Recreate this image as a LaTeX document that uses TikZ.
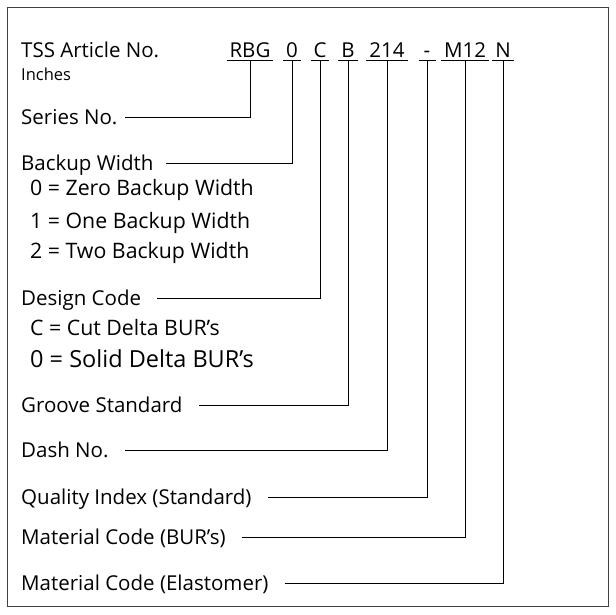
\documentclass[tikz,border=0pt]{standalone}
\usepackage{fontspec}
\setmainfont{Open Sans}

\begin{document}
\begin{tikzpicture}[x=1pt, y=-1pt,
  font=\fontsize{20.5}{24}\selectfont,
  frame/.style={draw=black!75, line width=0.9pt},
  code/.style={anchor=base, inner xsep=3pt, inner ysep=3.5pt,
    minimum width=17pt, text depth=0pt, outer sep=0pt},
  lbl/.style={anchor=base west, inner sep=0pt},
  sub/.style={anchor=base west, inner sep=0pt, font=\fontsize{21.3}{25}\selectfont},
  uline/.style={draw, line width=0.9pt},
  link/.style={draw, line width=0.9pt}
]
  \useasboundingbox (0,0) rectangle (616,614);
  \draw[frame] (7.5,7.5) rectangle (608,606);

  % header
  \node[lbl] (title) at (21,57) {TSS Article No.};
  \node[lbl, font=\fontsize{16.5}{20}\selectfont] (inches) at (21,80) {Inches};

  % code letters
  \node[code] (rbg) at (250,57) {RBG};
  \node[code] (bw)  at (292,57) {0};
  \node[code] (dc)  at (320,57) {C};
  \node[code] (gs)  at (348,57) {B};
  \node[code] (dn)  at (387,57) {214};
  \node[code] (qi)  at (427,57) {-};
  \node[code] (mb)  at (465,57) {M12};
  \node[code] (me)  at (503,57) {N};
  \foreach \c in {rbg,bw,dc,gs,dn,qi,mb,me}
    \draw[uline] (\c.south west) -- (\c.south east);

  % labels
  \node[lbl] (series) at (21,124) {Series No.};
  \node[lbl] (width)  at (21,170) {Backup Width};
  \node[sub] (w0) at (30,195) {0 = Zero Backup Width};
  \node[sub] (w1) at (30,228) {1 = One Backup Width};
  \node[sub] (w2) at (30,258) {2 = Two Backup Width};
  \node[lbl] (design) at (21,305) {Design Code};
  \node[sub] (dcc) at (30,335) {C = Cut Delta BUR's};
  \node[sub, font=\fontsize{23.5}{28}\selectfont] (dc0) at (30,367) {0 = Solid Delta BUR's};
  \node[lbl] (groove)  at (21,412) {Groove Standard};
  \node[lbl] (dash)    at (21,457) {Dash No.};
  \node[lbl] (quality) at (21,504) {Quality Index (Standard)};
  \node[lbl] (matbur)  at (21,544) {Material Code (BUR's)};
  \node[lbl] (matela)  at (21,590) {Material Code (Elastomer)};

  % connectors
  \draw[link] (rbg.south) |- ([shift={(7pt,7pt)}]series.base east);
  \draw[link] (bw.south)  |- ([shift={(12pt,7pt)}]width.base east);
  \draw[link] (dc.south)  |- ([shift={(16pt,7pt)}]design.base east);
  \draw[link] (gs.south)  |- ([shift={(16pt,7pt)}]groove.base east);
  \draw[link] (dn.south)  |- ([shift={(16pt,7pt)}]dash.base east);
  \draw[link] (qi.south)  |- ([shift={(16pt,7pt)}]quality.base east);
  \draw[link] (mb.south)  |- ([shift={(16pt,7pt)}]matbur.base east);
  \draw[link] (me.south)  |- ([shift={(16pt,7pt)}]matela.base east);
\end{tikzpicture}
\end{document}
